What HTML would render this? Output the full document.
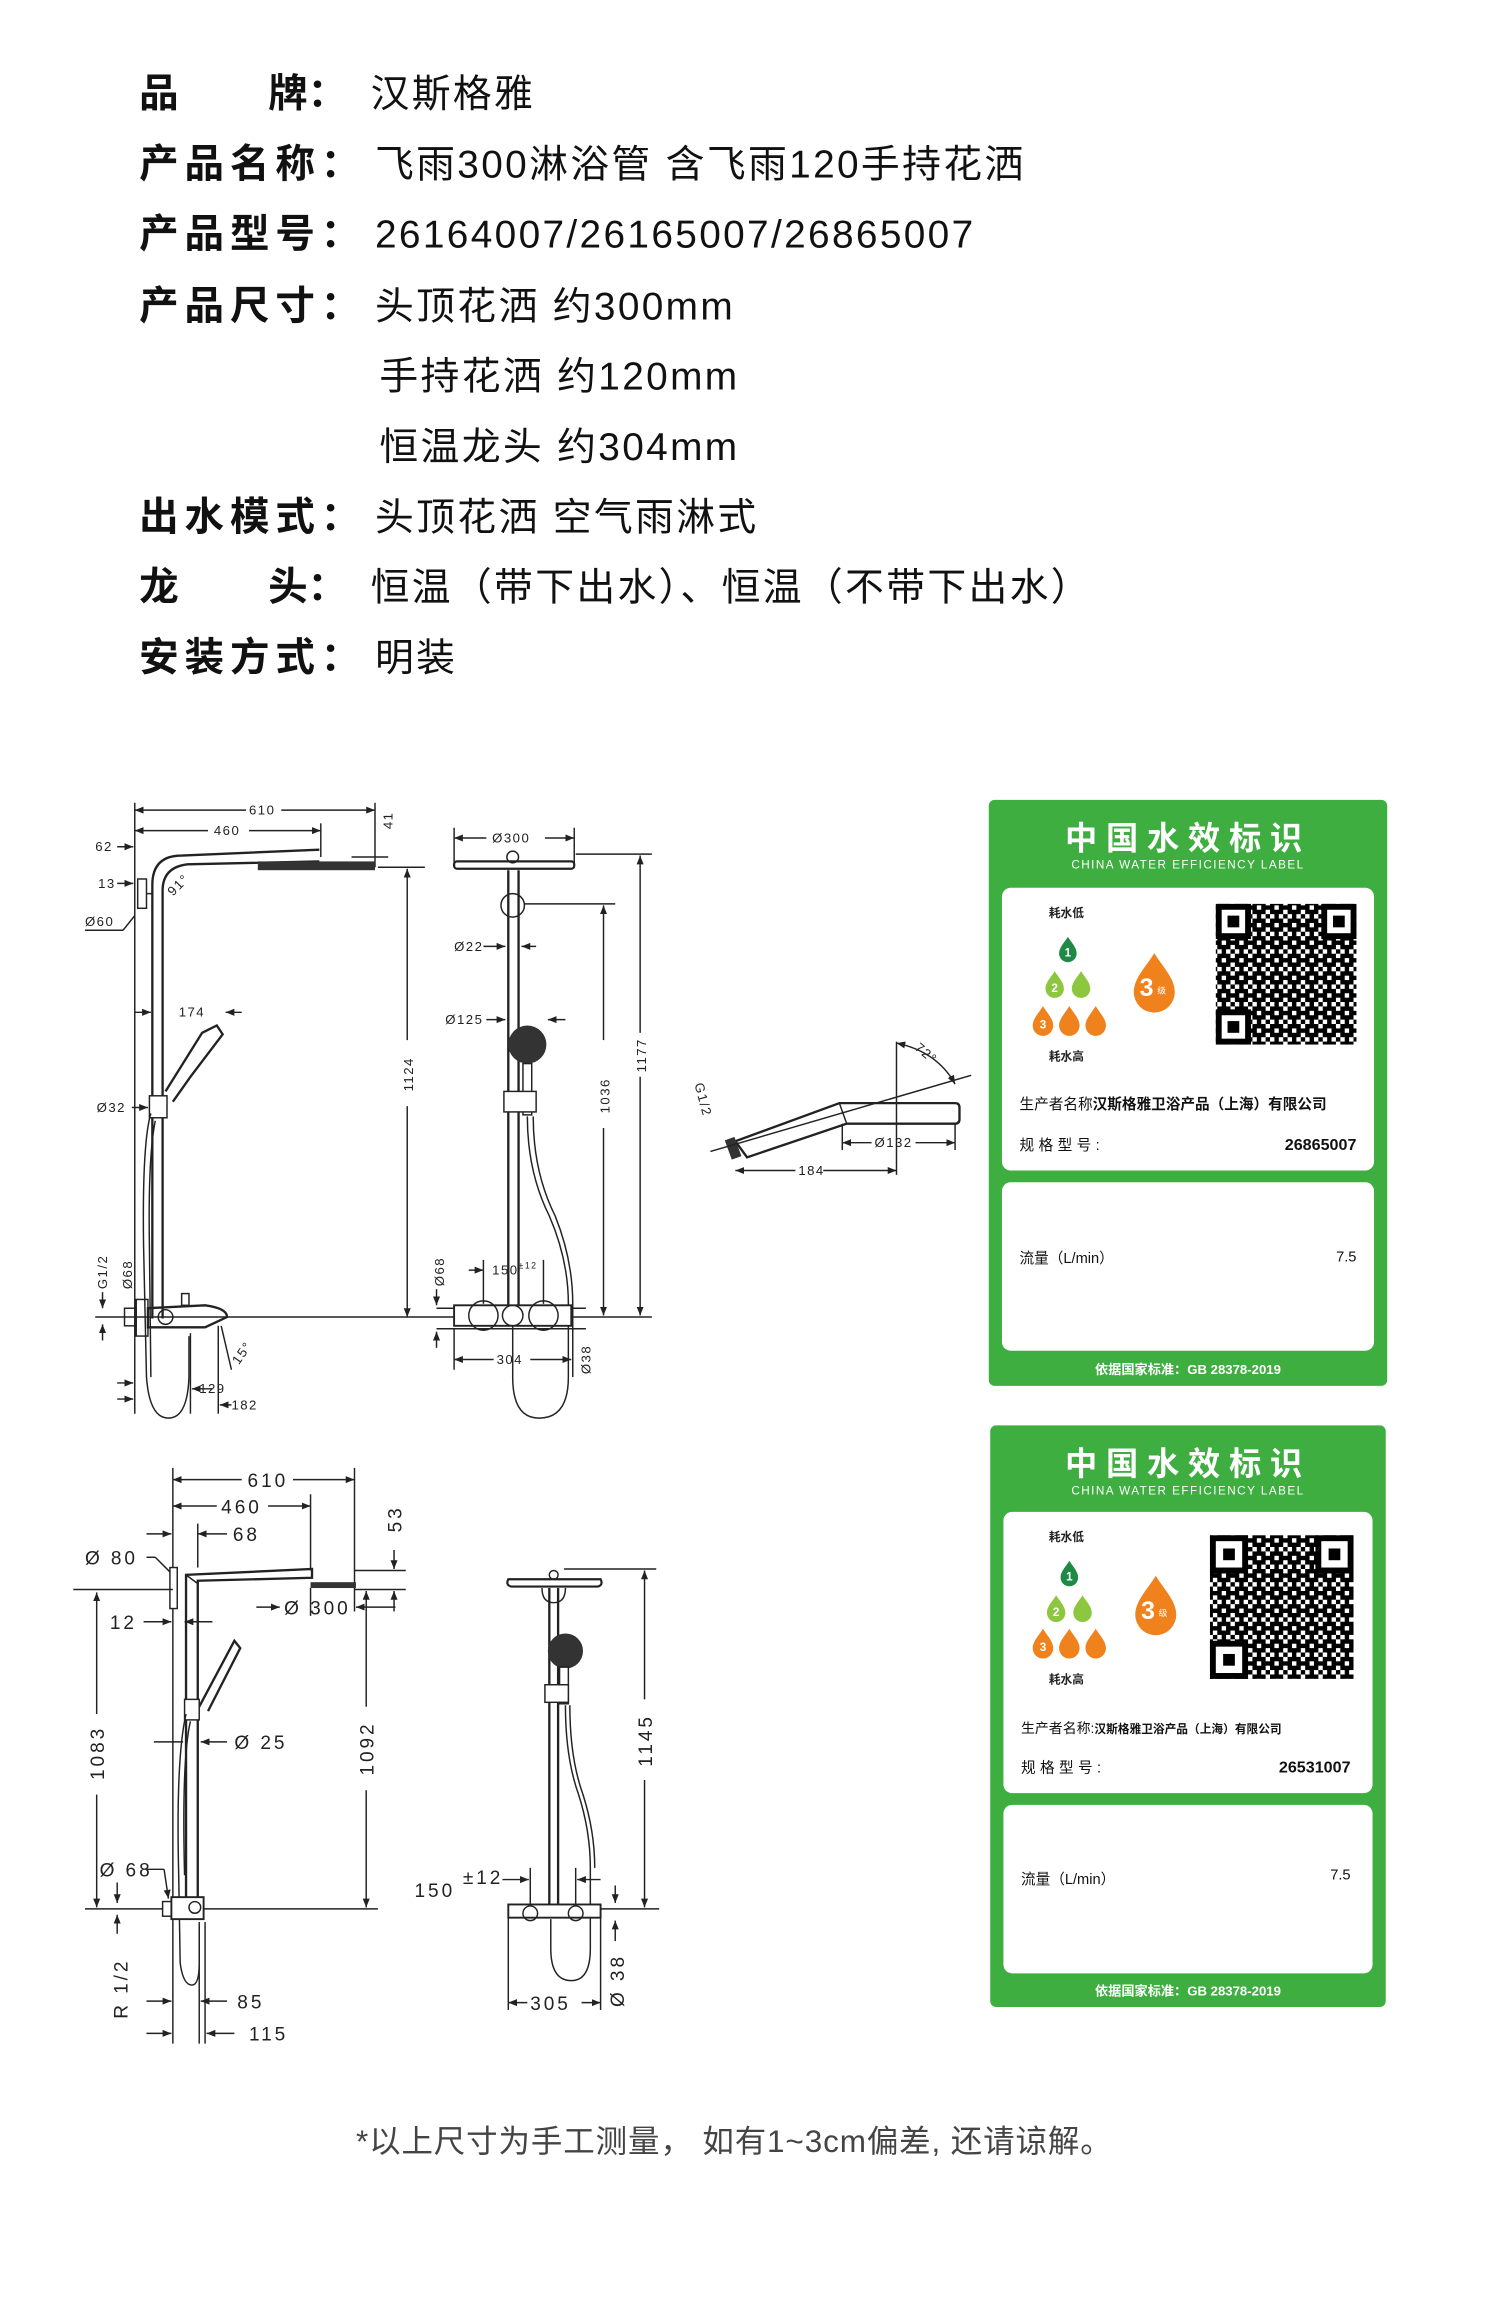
<!DOCTYPE html>
<html><head><meta charset="utf-8"><style>
html,body{margin:0;padding:0;background:#fff}
svg{display:block}
.lb{font-family:"Liberation Sans","Noto Sans CJK SC",sans-serif;font-weight:bold;font-size:27px;fill:#111}
.vl{font-family:"Liberation Sans","Noto Sans CJK SC",sans-serif;font-size:26.5px;fill:#111;letter-spacing:1.6px}
.d{font-family:"Liberation Sans",sans-serif;font-size:9px;fill:#222;letter-spacing:1px}
.d2{font-family:"Liberation Sans",sans-serif;font-size:13px;fill:#222;letter-spacing:2px}
.ln{stroke:#222;stroke-width:1;fill:none}
.th{stroke:#222;stroke-width:1.6;fill:none}
.cj{font-family:"Liberation Sans","Noto Sans CJK SC",sans-serif}
</style></head><body>
<svg width="1500" height="2322" viewBox="0 0 1024 1585" preserveAspectRatio="none" xmlns="http://www.w3.org/2000/svg">
<defs>
<path id="drop" d="M0,-1.6 C0.35,-1 1,-0.4 1,0.3 A1,1 0 1 1 -1,0.3 C-1,-0.4 -0.35,-1 0,-1.6Z"/>
<marker id="a" viewBox="0 0 10 10" refX="10" refY="5" markerWidth="6" markerHeight="6" orient="auto-start-reverse"><path d="M0,1 L10,5 L0,9Z" fill="#222"/></marker>
<pattern id="qr" width="12" height="12" patternUnits="userSpaceOnUse">
<rect x="0" y="0" width="3" height="3" fill="#000"/><rect x="6" y="0" width="3" height="6" fill="#000"/><rect x="3" y="3" width="3" height="3" fill="#000"/><rect x="9" y="3" width="3" height="3" fill="#000"/><rect x="0" y="6" width="6" height="3" fill="#000"/><rect x="9" y="6" width="3" height="3" fill="#000"/><rect x="3" y="9" width="3" height="3" fill="#000"/><rect x="6" y="9" width="6" height="3" fill="#000"/>
</pattern>
</defs>

<g>
<text class="lb" x="95" y="73">品</text><text class="lb" x="183" y="73">牌：</text><text class="vl" x="253" y="73">汉斯格雅</text>
<text class="lb" x="95" y="121" letter-spacing="4">产品名称：</text><text class="vl" x="256" y="121">飞雨300淋浴管 含飞雨120手持花洒</text>
<text class="lb" x="95" y="169" letter-spacing="4">产品型号：</text><text class="vl" x="256" y="169" letter-spacing="2.2">26164007/26165007/26865007</text>
<text class="lb" x="95" y="218" letter-spacing="4">产品尺寸：</text><text class="vl" x="256" y="218">头顶花洒 约300mm</text>
<text class="vl" x="259" y="266">手持花洒 约120mm</text>
<text class="vl" x="259" y="314">恒温龙头 约304mm</text>
<text class="lb" x="95" y="362" letter-spacing="4">出水模式：</text><text class="vl" x="256" y="362">头顶花洒 空气雨淋式</text>
<text class="lb" x="95" y="410">龙</text><text class="lb" x="183" y="410">头：</text><text class="vl" x="253" y="410" letter-spacing="2.5">恒温（带下出水）、恒温（不带下出水）</text>
<text class="lb" x="95" y="458" letter-spacing="4">安装方式：</text><text class="vl" x="256" y="458">明装</text>
</g>

<!-- Diagram 1 side -->
<g>
<line class="ln" x1="92" y1="548" x2="92" y2="965"/>
<line class="ln" x1="256" y1="548" x2="256" y2="592"/>
<line class="ln" x1="219" y1="562" x2="219" y2="585"/>
<line class="ln" x1="92" y1="553" x2="168" y2="553" marker-start="url(#a)"/><line class="ln" x1="192" y1="553" x2="256" y2="553" marker-end="url(#a)"/>
<text class="d" x="170" y="556">610</text>
<line class="ln" x1="92" y1="567" x2="142" y2="567" marker-start="url(#a)"/><line class="ln" x1="170" y1="567" x2="219" y2="567" marker-end="url(#a)"/>
<text class="d" x="146" y="570">460</text>
<text class="d" x="65" y="581">62</text><line class="ln" x1="80" y1="578" x2="91" y2="578" marker-end="url(#a)"/>
<text class="d" x="67" y="606">13</text><line class="ln" x1="80" y1="603" x2="91" y2="603" marker-end="url(#a)"/>
<text class="d" x="58" y="632">Ø60</text><line class="ln" x1="58" y1="635" x2="84" y2="635"/><line class="ln" x1="84" y1="635" x2="92" y2="625"/>
<text class="d" transform="translate(268,566) rotate(-90)">41</text>
<line class="ln" x1="240" y1="585" x2="265" y2="585"/>
<path class="th" d="M104,900 L104,604 Q104,584 124,584 L218,580"/>
<path class="th" d="M111,900 L111,608 Q111,592 128,590 L218,588"/>
<rect x="176" y="588" width="80" height="6" fill="#333"/>
<rect x="94" y="600" width="6" height="20" fill="none" stroke="#222"/>
<line class="ln" x1="100" y1="610" x2="104" y2="610"/>
<text class="d" transform="translate(118,612) rotate(-45)">91°</text>
<line class="ln" x1="258" y1="592" x2="290" y2="592"/>
<line class="ln" x1="278" y1="593" x2="278" y2="710" marker-start="url(#a)"/><line class="ln" x1="278" y1="755" x2="278" y2="899" marker-end="url(#a)"/>
<text class="d" transform="translate(282,745) rotate(-90)">1124</text>
<path class="th" d="M113,745 L138,705 L148,700 L152,706 L130,735 L118,752"/>
<text class="d" x="122" y="694">174</text>
<line class="ln" x1="92" y1="691" x2="103" y2="691" marker-end="url(#a)"/><line class="ln" x1="165" y1="691" x2="154" y2="691" marker-end="url(#a)"/>
<rect x="102" y="748" width="12" height="15" fill="#fff" stroke="#222"/>
<text class="d" x="66" y="759">Ø32</text><line class="ln" x1="90" y1="756" x2="101" y2="756" marker-end="url(#a)"/>
<path class="ln" d="M103,760 Q97,780 98,850 L100,940 Q102,968 115,968 Q128,968 129,940 L129,912"/>
<path class="ln" d="M106,765 Q101,790 102,850 L103,940"/>
<line class="ln" x1="65" y1="899" x2="370" y2="899"/>
<rect x="85" y="893" width="8" height="12" fill="none" stroke="#222"/>
<rect x="93" y="887" width="8" height="25" fill="none" stroke="#222"/>
<path class="th" d="M101,893 L140,891 Q155,893 155,899 L140,906 L101,906Z"/>
<circle cx="113" cy="899" r="5" class="ln"/>
<rect x="124" y="883" width="5" height="8" fill="none" stroke="#222"/>
<text class="d" transform="translate(73,880) rotate(-90)">G1/2</text>
<text class="d" transform="translate(90,880) rotate(-90)">Ø68</text>
<line class="ln" x1="70" y1="882" x2="70" y2="893" marker-end="url(#a)"/><line class="ln" x1="70" y1="915" x2="70" y2="904" marker-end="url(#a)"/>
<line class="ln" x1="130" y1="910" x2="130" y2="965"/>
<line class="ln" x1="149" y1="905" x2="149" y2="965"/>
<line class="ln" x1="151" y1="905" x2="158" y2="935"/>
<text class="d" transform="translate(163,932) rotate(-55)">15°</text>
<text class="d" x="136" y="951">129</text><line class="ln" x1="145" y1="948" x2="131" y2="948" marker-end="url(#a)"/>
<text class="d" x="158" y="962">182</text><line class="ln" x1="158" y1="959" x2="150" y2="959" marker-end="url(#a)"/>
<line class="ln" x1="80" y1="944" x2="91" y2="944" marker-end="url(#a)"/><line class="ln" x1="80" y1="955" x2="91" y2="955" marker-end="url(#a)"/>
</g>

<!-- Diagram 2 front -->
<g>
<line class="ln" x1="310" y1="572" x2="332" y2="572" marker-start="url(#a)"/><line class="ln" x1="372" y1="572" x2="392" y2="572" marker-end="url(#a)"/>
<text class="d" x="336" y="575">Ø300</text>
<line class="ln" x1="310" y1="565" x2="310" y2="590"/><line class="ln" x1="392" y1="565" x2="392" y2="590"/>
<rect x="310" y="588" width="82" height="5" rx="2" fill="#fff" stroke="#222" stroke-width="1.5"/>
<circle cx="350" cy="585" r="4" class="ln"/>
<line class="ln" x1="393" y1="583" x2="445" y2="583"/>
<line class="th" x1="347" y1="594" x2="347" y2="892"/><line class="th" x1="354" y1="594" x2="354" y2="892"/>
<circle cx="350" cy="618" r="8" class="ln"/>
<line class="ln" x1="358" y1="617" x2="420" y2="617"/>
<line class="ln" x1="412" y1="618" x2="412" y2="710" marker-start="url(#a)"/><line class="ln" x1="412" y1="770" x2="412" y2="898" marker-end="url(#a)"/>
<text class="d" transform="translate(416,760) rotate(-90)">1036</text>
<line class="ln" x1="437" y1="584" x2="437" y2="705" marker-start="url(#a)"/><line class="ln" x1="437" y1="735" x2="437" y2="898" marker-end="url(#a)"/>
<text class="d" transform="translate(441,732) rotate(-90)">1177</text>
<text class="d" x="310" y="649">Ø22</text><line class="ln" x1="330" y1="646" x2="345" y2="646" marker-end="url(#a)"/><line class="ln" x1="366" y1="646" x2="356" y2="646" marker-end="url(#a)"/>
<text class="d" x="304" y="699">Ø125</text><line class="ln" x1="332" y1="696" x2="345" y2="696" marker-end="url(#a)"/><line class="ln" x1="386" y1="696" x2="374" y2="696" marker-end="url(#a)"/>
<circle cx="360" cy="713" r="13" fill="#333"/>
<rect x="357" y="726" width="6" height="35" fill="#fff" stroke="#222"/>
<rect x="344" y="745" width="22" height="14" fill="#fff" stroke="#222"/>
<path class="ln" d="M360,762 Q360,800 375,830 Q388,860 388,890 L388,940 Q388,968 368,968 Q350,968 350,940 L350,905"/>
<path class="ln" d="M364,762 Q364,800 379,830 Q391,860 391,890 L391,940"/>
<line class="ln" x1="298" y1="893" x2="400" y2="893"/><line class="ln" x1="298" y1="907" x2="400" y2="907"/>
<line class="ln" x1="390" y1="899" x2="445" y2="899"/>
<rect x="310" y="891" width="80" height="14" fill="#fff" stroke="#222" stroke-width="1.3"/>
<circle cx="330" cy="898" r="10" class="ln"/><circle cx="371" cy="898" r="10" class="ln"/><circle cx="350" cy="898" r="7" class="ln"/>
<text class="d" transform="translate(303,878) rotate(-90)">Ø68</text>
<line class="ln" x1="298" y1="880" x2="298" y2="891" marker-end="url(#a)"/><line class="ln" x1="298" y1="920" x2="298" y2="909" marker-end="url(#a)"/>
<text class="d" x="336" y="870">150<tspan font-size="6" dy="-4">±12</tspan></text>
<line class="ln" x1="320" y1="867" x2="330" y2="867" marker-end="url(#a)"/><line class="ln" x1="330" y1="860" x2="330" y2="890"/><line class="ln" x1="371" y1="860" x2="371" y2="890"/>
<line class="ln" x1="310" y1="907" x2="310" y2="935"/>
<line class="ln" x1="310" y1="928" x2="337" y2="928" marker-start="url(#a)"/><line class="ln" x1="362" y1="928" x2="390" y2="928" marker-end="url(#a)"/>
<text class="d" x="339" y="931">304</text>
<text class="d" transform="translate(403,938) rotate(-90)">Ø38</text>
</g>

<!-- handheld side view -->
<g>
<path class="th" d="M502,779 L573,753 L652,753 Q655,753 655,756 L655,764 Q655,767 652,767 L578,767 L510,790 Z"/>
<rect x="497" y="777" width="7" height="14" fill="#333" transform="rotate(-20 500 784)"/>
<line class="ln" x1="573" y1="753" x2="578" y2="767"/>
<line class="ln" x1="485" y1="786" x2="663" y2="734"/>
<line class="ln" x1="612" y1="711" x2="612" y2="802"/>
<line class="ln" x1="652" y1="767" x2="652" y2="785"/><line class="ln" x1="575" y1="767" x2="575" y2="785"/>
<line class="ln" x1="575" y1="780" x2="595" y2="780" marker-start="url(#a)"/><line class="ln" x1="625" y1="780" x2="652" y2="780" marker-end="url(#a)"/>
<text class="d" x="597" y="783" font-size="8">Ø132</text>
<line class="ln" x1="502" y1="799" x2="543" y2="799" marker-start="url(#a)"/><line class="ln" x1="562" y1="799" x2="612" y2="799" marker-end="url(#a)"/>
<text class="d" x="545" y="802" font-size="8">184</text>
<path class="ln" d="M612,712 Q640,718 652,740" marker-start="url(#a)" marker-end="url(#a)"/>
<text class="d" font-size="8" transform="translate(624,716) rotate(40)">72°</text>
<text class="d" font-size="8" transform="translate(474,740) rotate(75)">G1/2</text>
</g>

<!-- Diagram 3 -->
<g>
<line class="ln" x1="118" y1="1002" x2="118" y2="1395"/>
<line class="ln" x1="242" y1="1002" x2="242" y2="1100"/>
<line class="ln" x1="212" y1="1020" x2="212" y2="1072"/>
<line class="ln" x1="118" y1="1010" x2="165" y2="1010" marker-start="url(#a)"/><line class="ln" x1="200" y1="1010" x2="242" y2="1010" marker-end="url(#a)"/>
<text class="d2" x="169" y="1015">610</text>
<line class="ln" x1="118" y1="1028" x2="148" y2="1028" marker-start="url(#a)"/><line class="ln" x1="183" y1="1028" x2="212" y2="1028" marker-end="url(#a)"/>
<text class="d2" x="151" y="1033">460</text>
<line class="ln" x1="100" y1="1047" x2="117" y2="1047" marker-end="url(#a)"/><line class="ln" x1="155" y1="1047" x2="135" y2="1047" marker-end="url(#a)"/>
<line class="ln" x1="135" y1="1040" x2="135" y2="1070"/>
<text class="d2" x="159" y="1052">68</text>
<text class="d2" x="58" y="1068">Ø 80</text><line class="ln" x1="100" y1="1063" x2="106" y2="1063"/><line class="ln" x1="106" y1="1063" x2="116" y2="1073"/>
<text class="d2" x="75" y="1112">12</text><line class="ln" x1="98" y1="1107" x2="117" y2="1107" marker-end="url(#a)"/><line class="ln" x1="145" y1="1107" x2="126" y2="1107" marker-end="url(#a)"/>
<rect x="116" y="1070" width="5" height="28" fill="#fff" stroke="#222"/>
<path class="th" d="M127,1300 L127,1075 L213,1071 L213,1077 L135,1079 L135,1300"/>
<line class="ln" x1="127" y1="1075" x2="135" y2="1081"/>
<rect x="212" y="1080" width="31" height="4" fill="#333"/>
<line class="ln" x1="242" y1="1072" x2="277" y2="1072"/><line class="ln" x1="242" y1="1085" x2="277" y2="1085"/>
<line class="ln" x1="269" y1="1058" x2="269" y2="1071" marker-end="url(#a)"/><line class="ln" x1="269" y1="1100" x2="269" y2="1086" marker-end="url(#a)"/>
<text class="d2" transform="translate(274,1046) rotate(-90)">53</text>
<line class="ln" x1="175" y1="1097" x2="191" y2="1097" marker-end="url(#a)"/><line class="ln" x1="270" y1="1097" x2="243" y2="1097" marker-end="url(#a)"/>
<line class="ln" x1="212" y1="1084" x2="212" y2="1103"/>
<text class="d2" x="194" y="1102">Ø 300</text>
<path class="th" d="M136,1165 L160,1120 L164,1125 L142,1168"/>
<rect x="126" y="1160" width="10" height="14" fill="#fff" stroke="#222"/>
<path class="ln" d="M127,1170 Q120,1200 122,1280 L123,1340 Q125,1355 131,1355 Q136,1355 136,1340 L136,1315"/>
<path class="ln" d="M130,1175 Q124,1200 126,1280"/>
<line class="ln" x1="105" y1="1189" x2="125" y2="1189"/><line class="ln" x1="155" y1="1189" x2="137" y2="1189" marker-end="url(#a)"/>
<text class="d2" x="160" y="1194">Ø 25</text>
<line class="ln" x1="58" y1="1303" x2="258" y2="1303"/>
<line class="ln" x1="50" y1="1085" x2="118" y2="1085"/>
<line class="ln" x1="66" y1="1087" x2="66" y2="1170" marker-start="url(#a)"/><line class="ln" x1="66" y1="1225" x2="66" y2="1302" marker-end="url(#a)"/>
<text class="d2" transform="translate(71,1215) rotate(-90)">1083</text>
<line class="ln" x1="250" y1="1086" x2="250" y2="1165" marker-start="url(#a)"/><line class="ln" x1="250" y1="1222" x2="250" y2="1302" marker-end="url(#a)"/>
<text class="d2" transform="translate(255,1212) rotate(-90)">1092</text>
<text class="d2" x="68" y="1281">Ø 68</text><line class="ln" x1="100" y1="1276" x2="112" y2="1276"/><line class="ln" x1="112" y1="1276" x2="115" y2="1296" marker-end="url(#a)"/>
<line class="ln" x1="80" y1="1285" x2="80" y2="1299" marker-end="url(#a)"/><line class="ln" x1="80" y1="1320" x2="80" y2="1307" marker-end="url(#a)"/>
<rect x="111" y="1298" width="6" height="10" fill="#fff" stroke="#222"/>
<rect x="117" y="1295" width="22" height="15" fill="#fff" stroke="#222" stroke-width="1.3"/>
<circle cx="133" cy="1302" r="4" class="ln"/>
<text class="d2" transform="translate(87,1378) rotate(-90)">R 1/2</text>
<line class="ln" x1="100" y1="1366" x2="117" y2="1366" marker-end="url(#a)"/><line class="ln" x1="155" y1="1366" x2="137" y2="1366" marker-end="url(#a)"/>
<line class="ln" x1="136" y1="1312" x2="136" y2="1395"/><line class="ln" x1="140" y1="1312" x2="140" y2="1395"/>
<text class="d2" x="162" y="1371">85</text>
<text class="d2" x="170" y="1393">115</text><line class="ln" x1="160" y1="1388" x2="141" y2="1388" marker-end="url(#a)"/><line class="ln" x1="100" y1="1388" x2="117" y2="1388" marker-end="url(#a)"/>
</g>

<!-- Diagram 4 -->
<g>
<path d="M347,1078 L410,1078 Q412,1082 408,1083 L349,1083 Q345,1082 347,1078Z" fill="#fff" stroke="#222" stroke-width="1.5"/>
<circle cx="378" cy="1075" r="3" class="ln"/>
<path class="ln" d="M370,1084 Q370,1094 378,1094 Q386,1094 386,1084"/>
<line class="ln" x1="385" y1="1071" x2="448" y2="1071"/>
<line class="th" x1="375" y1="1084" x2="375" y2="1300"/><line class="th" x1="381" y1="1084" x2="381" y2="1300"/>
<circle cx="386" cy="1127" r="12" fill="#333"/>
<rect x="382" y="1138" width="6" height="25" fill="#fff" stroke="#222"/>
<rect x="372" y="1150" width="16" height="12" fill="#fff" stroke="#222"/>
<path class="ln" d="M386,1164 Q386,1200 395,1225 Q403,1250 403,1275 L403,1330 Q403,1352 390,1352 Q376,1352 376,1330 L376,1310"/>
<path class="ln" d="M389,1164 Q389,1200 398,1225 Q406,1250 406,1275"/>
<line class="ln" x1="440" y1="1072" x2="440" y2="1160" marker-start="url(#a)"/><line class="ln" x1="440" y1="1215" x2="440" y2="1302" marker-end="url(#a)"/>
<text class="d2" transform="translate(445,1206) rotate(-90)">1145</text>
<line class="ln" x1="395" y1="1303" x2="450" y2="1303"/>
<text class="d2" x="283" y="1295">150</text><text class="d2" x="316" y="1286" font-size="12">±12</text>
<line class="ln" x1="343" y1="1283" x2="361" y2="1283" marker-end="url(#a)"/><line class="ln" x1="410" y1="1283" x2="394" y2="1283" marker-end="url(#a)"/>
<line class="ln" x1="362" y1="1275" x2="362" y2="1300"/><line class="ln" x1="393" y1="1275" x2="393" y2="1300"/>
<rect x="347" y="1300" width="63" height="9" fill="#fff" stroke="#222" stroke-width="1.3"/>
<circle cx="362" cy="1306" r="5" class="ln"/><circle cx="393" cy="1306" r="5" class="ln"/>
<line class="ln" x1="347" y1="1309" x2="347" y2="1372"/><line class="ln" x1="410" y1="1309" x2="410" y2="1372"/>
<line class="ln" x1="347" y1="1367" x2="360" y2="1367" marker-start="url(#a)"/><line class="ln" x1="397" y1="1367" x2="410" y2="1367" marker-end="url(#a)"/>
<text class="d2" x="362" y="1372">305</text>
<line class="ln" x1="420" y1="1287" x2="420" y2="1299" marker-end="url(#a)"/><line class="ln" x1="420" y1="1325" x2="420" y2="1311" marker-end="url(#a)"/>
<text class="d2" transform="translate(426,1370) rotate(-90)">Ø 38</text>
</g>

<!-- Label 1 -->
<g class="cj">
<rect x="675" y="546" width="272" height="400" rx="4" fill="#3dae3f"/>
<text x="811" y="580" text-anchor="middle" font-size="22" font-weight="bold" fill="#fff" letter-spacing="6">中国水效标识</text>
<text x="811" y="593" text-anchor="middle" font-size="8" fill="#fff" letter-spacing="1">CHINA WATER EFFICIENCY LABEL</text>
<rect x="684" y="606" width="254" height="193" rx="6" fill="#fff"/>
<rect x="684" y="807" width="254" height="115" rx="6" fill="#fff"/>
<text x="716" y="626" font-size="8" font-weight="bold" fill="#222">耗水低</text>
<text x="716" y="724" font-size="8" font-weight="bold" fill="#222">耗水高</text>
<use href="#drop" transform="translate(729,649) scale(6)" fill="#1e8a45"/>
<use href="#drop" transform="translate(720,673) scale(6.3)" fill="#8dc63f"/>
<use href="#drop" transform="translate(738,673) scale(6.3)" fill="#8dc63f"/>
<use href="#drop" transform="translate(712,698) scale(7)" fill="#f0821e"/>
<use href="#drop" transform="translate(730,698) scale(7)" fill="#f0821e"/>
<use href="#drop" transform="translate(748,698) scale(7)" fill="#f0821e"/>
<text x="729" y="653" font-size="8" font-weight="bold" fill="#fff" text-anchor="middle">1</text>
<text x="720" y="677" font-size="8" font-weight="bold" fill="#fff" text-anchor="middle">2</text>
<text x="712" y="702" font-size="8" font-weight="bold" fill="#fff" text-anchor="middle">3</text>
<use href="#drop" transform="translate(788,673) scale(14)" fill="#f0821e"/>
<text x="778" y="680" font-size="17" font-weight="bold" fill="#fff">3</text><text x="790" y="678" font-size="6" fill="#fff">级</text>
<rect x="830" y="617" width="96" height="96" fill="url(#qr)"/>
<rect x="832" y="619" width="20" height="20" fill="#fff" stroke="#000" stroke-width="4"/><rect x="838" y="625" width="8" height="8" fill="#000"/>
<rect x="904" y="619" width="20" height="20" fill="#fff" stroke="#000" stroke-width="4"/><rect x="910" y="625" width="8" height="8" fill="#000"/>
<rect x="832" y="691" width="20" height="20" fill="#fff" stroke="#000" stroke-width="4"/><rect x="838" y="697" width="8" height="8" fill="#000"/>
<text x="696" y="757" font-size="10" fill="#111">生产者名称<tspan font-weight="bold">汉斯格雅卫浴产品（上海）有限公司</tspan></text>
<text x="696" y="785" font-size="10" fill="#111" letter-spacing="3">规格型号:</text>
<text x="926" y="785" font-size="11" font-weight="bold" fill="#111" text-anchor="end">26865007</text>
<text x="696" y="862" font-size="10" fill="#111">流量（L/min）</text>
<text x="926" y="861" font-size="10" fill="#111" text-anchor="end">7.5</text>
<text x="811" y="938" text-anchor="middle" font-size="9" font-weight="bold" fill="#fff">依据国家标准：GB 28378-2019</text>
</g>

<!-- Label 2 -->
<g class="cj">
<rect x="676" y="973" width="270" height="397" rx="4" fill="#3dae3f"/>
<text x="811" y="1007" text-anchor="middle" font-size="22" font-weight="bold" fill="#fff" letter-spacing="6">中国水效标识</text>
<text x="811" y="1020" text-anchor="middle" font-size="8" fill="#fff" letter-spacing="1">CHINA WATER EFFICIENCY LABEL</text>
<rect x="685" y="1032" width="252" height="192" rx="6" fill="#fff"/>
<rect x="685" y="1232" width="252" height="115" rx="6" fill="#fff"/>
<text x="716" y="1052" font-size="8" font-weight="bold" fill="#222">耗水低</text>
<text x="716" y="1149" font-size="8" font-weight="bold" fill="#222">耗水高</text>
<use href="#drop" transform="translate(730,1075) scale(6)" fill="#1e8a45"/>
<use href="#drop" transform="translate(721,1099) scale(6.3)" fill="#8dc63f"/>
<use href="#drop" transform="translate(739,1099) scale(6.3)" fill="#8dc63f"/>
<use href="#drop" transform="translate(712,1123) scale(7)" fill="#f0821e"/>
<use href="#drop" transform="translate(730,1123) scale(7)" fill="#f0821e"/>
<use href="#drop" transform="translate(748,1123) scale(7)" fill="#f0821e"/>
<text x="730" y="1079" font-size="8" font-weight="bold" fill="#fff" text-anchor="middle">1</text>
<text x="721" y="1103" font-size="8" font-weight="bold" fill="#fff" text-anchor="middle">2</text>
<text x="712" y="1127" font-size="8" font-weight="bold" fill="#fff" text-anchor="middle">3</text>
<use href="#drop" transform="translate(789,1098) scale(14)" fill="#f0821e"/>
<text x="779" y="1105" font-size="17" font-weight="bold" fill="#fff">3</text><text x="791" y="1103" font-size="6" fill="#fff">级</text>
<rect x="826" y="1048" width="98" height="98" fill="url(#qr)"/>
<rect x="828" y="1050" width="22" height="22" fill="#fff" stroke="#000" stroke-width="4"/><rect x="835" y="1057" width="8" height="8" fill="#000"/>
<rect x="900" y="1050" width="22" height="22" fill="#fff" stroke="#000" stroke-width="4"/><rect x="907" y="1057" width="8" height="8" fill="#000"/>
<rect x="828" y="1122" width="22" height="22" fill="#fff" stroke="#000" stroke-width="4"/><rect x="835" y="1129" width="8" height="8" fill="#000"/>
<text x="697" y="1183" font-size="9.5" fill="#111">生产者名称:<tspan font-weight="bold" font-size="8">汉斯格雅卫浴产品（上海）有限公司</tspan></text>
<text x="697" y="1210" font-size="10" fill="#111" letter-spacing="3">规格型号:</text>
<text x="922" y="1210" font-size="11" font-weight="bold" fill="#111" text-anchor="end">26531007</text>
<text x="697" y="1286" font-size="10" fill="#111">流量（L/min）</text>
<text x="922" y="1283" font-size="10" fill="#111" text-anchor="end">7.5</text>
<text x="811" y="1362" text-anchor="middle" font-size="9" font-weight="bold" fill="#fff">依据国家标准：GB 28378-2019</text>
</g>

<text x="243" y="1469" class="cj" font-size="21.5" fill="#444" letter-spacing="0.6">*以上尺寸为手工测量， 如有1~3cm偏差, 还请谅解。</text>
</svg>
</body></html>
